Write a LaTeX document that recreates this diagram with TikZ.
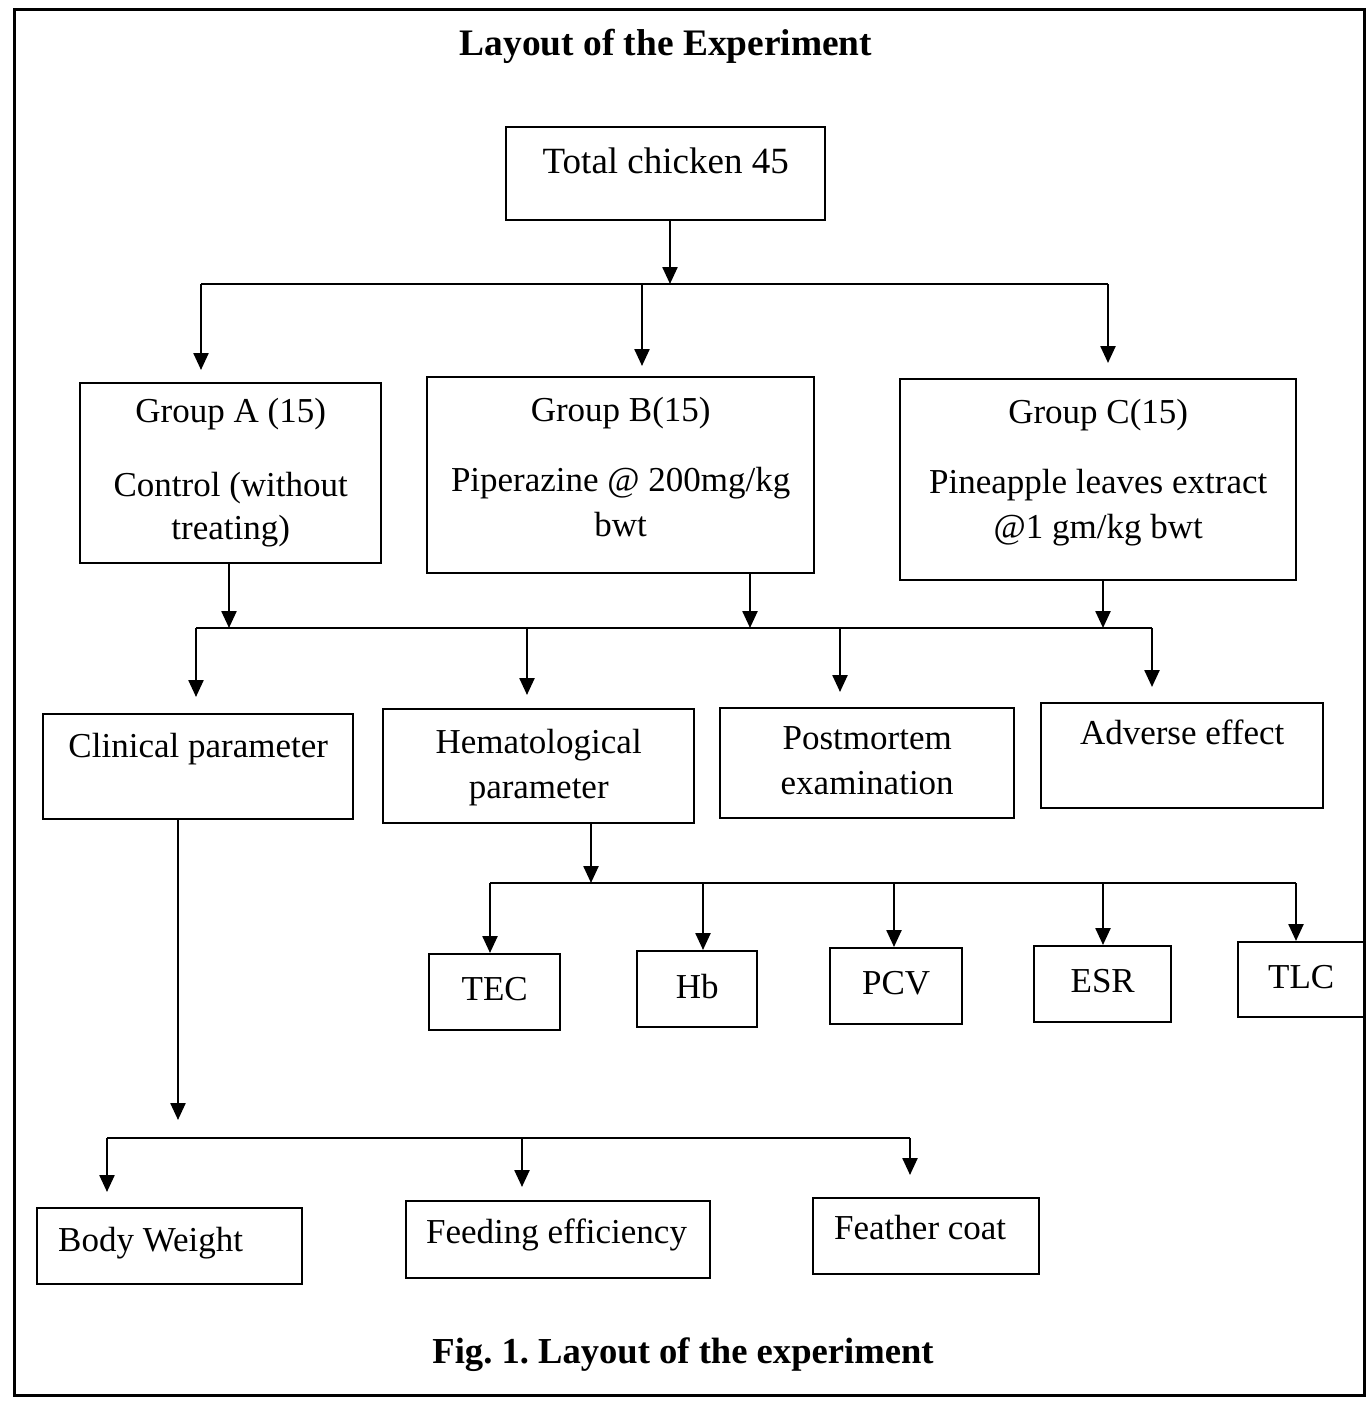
\documentclass[tikz,border=0pt]{standalone}
\usepackage{fontspec}
\setmainfont{Liberation Serif}
\usetikzlibrary{arrows.meta}
\frenchspacing
\newcommand{\tb}[4]{\parbox[c][#2][t]{#1}{\centering\rule{0pt}{#3}#4}}
\newcommand{\cb}[3]{\parbox[c][#2][c]{#1}{\centering\raisebox{3pt}{#3}}}
\newcommand{\lb}[5]{\parbox[c][#2][t]{#1}{\raggedright\hspace*{#4}\rule{0pt}{#3}#5}}
\tikzset{
  boxnode/.style={draw, line width=1.2pt, inner sep=0pt, anchor=north west,
    font=\fontsize{17.5}{21.5}\selectfont},
  conn/.style={line width=1.2pt},
  arr/.style={line width=1.2pt, -{Triangle[width=7.5pt,length=8.5pt]}},
}
\begin{document}
\begin{tikzpicture}[x=0.5pt,y=-0.5pt]
\useasboundingbox (0,0) rectangle (1367,1409);
\draw[line width=1.5pt] (14,9) rectangle (1364,1395);

\node[font=\bfseries\fontsize{18.7}{22}\selectfont, anchor=base] (title) at (666,55) {Layout of the Experiment};
\node[font=\bfseries\fontsize{18.3}{22}\selectfont, anchor=base] (caption) at (683,1363) {Fig. 1. Layout of the experiment};

% boxes
\node[boxnode, font=\fontsize{18.5}{22}\selectfont] (total) at (505,126) {\tb{159.5pt}{46.5pt}{23pt}{Total chicken 45}};
\node[boxnode] (ga) at (79,382) {\tb{150.5pt}{90pt}{19.5pt}{Group A (15)\\[15.5pt] Control (without\\ treating)}};
\node[boxnode] (gb) at (426,376) {\tb{193.5pt}{98pt}{22pt}{Group B(15)\\[13.5pt] Piperazine @ 200mg/kg\\[1pt] bwt}};
\node[boxnode] (gc) at (899,378) {\tb{198pt}{100.5pt}{22pt}{Group C(15)\\[13.5pt] Pineapple leaves extract\\[1pt] @1 gm/kg bwt}};

\node[boxnode] (clin) at (42,713) {\tb{155pt}{52.5pt}{21.5pt}{Clinical parameter}};
\node[boxnode] (hema) at (382,708) {\tb{155.5pt}{57pt}{22pt}{Hematological\\[1pt] parameter}};
\node[boxnode] (post) at (719,707) {\tb{147pt}{55pt}{20.5pt}{Postmortem\\[1pt] examination}};
\node[boxnode] (adv) at (1040,702) {\tb{141pt}{52.5pt}{20.5pt}{Adverse effect}};

\node[boxnode] (tec) at (428,953) {\cb{65.5pt}{38pt}{TEC}};
\node[boxnode] (hb) at (636,950) {\cb{60pt}{38pt}{Hb}};
\node[boxnode] (pcv) at (829,947) {\cb{66pt}{38pt}{PCV}};
\node[boxnode] (esr) at (1033,945) {\cb{68.5pt}{38pt}{ESR}};
\node[boxnode] (tlc) at (1237,941) {\cb{63pt}{37.5pt}{TLC}};

\node[boxnode] (bw) at (36,1207) {\lb{132.5pt}{38pt}{21.5pt}{10.5pt}{Body Weight}};
\node[boxnode] (fe) at (405,1200) {\lb{152pt}{38.5pt}{21pt}{10pt}{Feeding efficiency}};
\node[boxnode] (fc) at (812,1197) {\lb{113pt}{38pt}{20.5pt}{10.5pt}{Feather coat}};

% bus 1
\coordinate (a1) at (201,284);
\coordinate (a2) at (642,284);
\coordinate (a3) at (1108,284);
\coordinate (a0) at (670,284);
\draw[arr] (total.south -| a0) -- (a0);
\draw[conn] (a1) -- (a3);
\draw[arr, shorten >=6pt] (a1) -- (a1 |- ga.north);
\draw[arr, shorten >=5pt] (a2) -- (a2 |- gb.north);
\draw[arr, shorten >=7.5pt] (a3) -- (a3 |- gc.north);

% bus 2
\coordinate (gA) at (229,628);
\coordinate (gB) at (750,628);
\coordinate (gC) at (1103,628);
\coordinate (d1) at (196,628);
\coordinate (d2) at (527,628);
\coordinate (d3) at (840,628);
\coordinate (d4) at (1152,628);
\draw[arr] (ga.south -| gA) -- (gA);
\draw[arr] (gb.south -| gB) -- (gB);
\draw[arr] (gc.south -| gC) -- (gC);
\draw[conn] (d1) -- (d4);
\draw[arr, shorten >=8pt] (d1) -- (d1 |- clin.north);
\draw[arr, shorten >=6.5pt] (d2) -- (d2 |- hema.north);
\draw[arr, shorten >=7.5pt] (d3) -- (d3 |- post.north);
\draw[arr, shorten >=7.5pt] (d4) -- (d4 |- adv.north);

% bus 3
\coordinate (h0) at (591,883);
\coordinate (t1) at (490,883);
\coordinate (t2) at (703,883);
\coordinate (t3) at (894,883);
\coordinate (t4) at (1103,883);
\coordinate (t5) at (1296,883);
\draw[arr] (hema.south -| h0) -- (h0);
\draw[conn] (t1) -- (t5);
\draw[arr] (t1) -- (t1 |- tec.north);
\draw[arr] (t2) -- (t2 |- hb.north);
\draw[arr] (t3) -- (t3 |- pcv.north);
\draw[arr] (t4) -- (t4 |- esr.north);
\draw[arr] (t5) -- (t5 |- tlc.north);

% bus 4
\coordinate (c0) at (178,1138);
\coordinate (c1) at (107,1138);
\coordinate (c2) at (522,1138);
\coordinate (c3) at (910,1138);
\draw[arr, shorten >=9pt] (clin.south -| c0) -- (c0);
\draw[conn] (c1) -- (c3);
\draw[arr, shorten >=7.5pt] (c1) -- (c1 |- bw.north);
\draw[arr, shorten >=6.5pt] (c2) -- (c2 |- fe.north);
\draw[arr, shorten >=11pt] (c3) -- (c3 |- fc.north);
\end{tikzpicture}
\end{document}
